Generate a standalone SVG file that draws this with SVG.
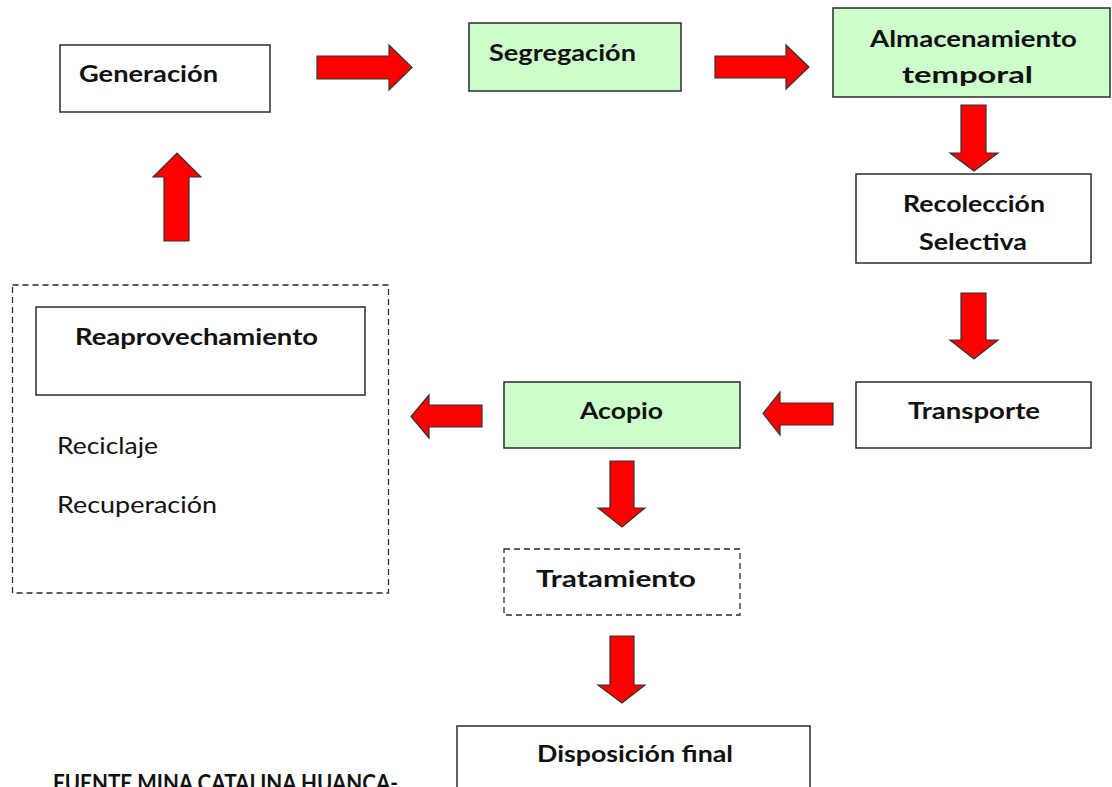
<svg xmlns="http://www.w3.org/2000/svg" width="1112" height="787" viewBox="0 0 1112 787">
  <style>
    .box { fill: #ffffff; stroke: #2b2b2b; stroke-width: 1.5; }
    .green { fill: #ccffcc; }
    .dashed { fill: #ffffff; stroke: #2b2b2b; stroke-width: 1.3; stroke-dasharray: 6 4; }
    .arrow { fill: #ff0000; stroke: #333333; stroke-width: 1.2; stroke-linejoin: miter; }
    .lbl { font-family: Lato, "Liberation Sans", sans-serif; font-weight: bold; font-size: 23px; fill: #111111; }
    .reg { font-family: Lato, "Liberation Sans", sans-serif; font-weight: normal; font-size: 23px; fill: #111111; }
  </style>
  <defs>
    <clipPath id="clipAlm">
      <rect x="833" y="8" width="279" height="78"/>
    </clipPath>
  </defs>
  <rect x="0" y="0" width="1112" height="787" fill="#ffffff"/>

  <g id="connectors">
    <polygon id="a1" class="arrow" points="317,56 389,56 389,45 412,67.5 389,90 389,79 317,79"/>
    <polygon id="a2" class="arrow" points="715,56 786,56 786,45 809,67 786,89 786,78 715,78"/>
    <polygon id="a3" class="arrow" points="961,105 986,105 986,153 998,153 974,171 950,153 961,153"/>
    <polygon id="a4" class="arrow" points="961,293 986,293 986,340 998,340 974,359 950,340 961,340"/>
    <polygon id="a5" class="arrow" points="833,403 780,403 780,392 763,413.5 780,435 780,425 833,425"/>
    <polygon id="a6" class="arrow" points="482,405 429,405 429,395 411,416.5 429,438 429,427 482,427"/>
    <polygon id="a7" class="arrow" points="164,241 164,177 153,177 177,153 201,177 189,177 189,241"/>
    <polygon id="a8" class="arrow" points="610,461 634,461 634,508 645,508 622,527 598,508 610,508"/>
    <polygon id="a9" class="arrow" points="610,636 634,636 634,685 645,685 622,703 598,685 610,685"/>
  </g>

  <g id="generacion">
    <rect class="box" x="60" y="45" width="210" height="67"/>
    <text class="lbl" x="79" y="82" textLength="139" lengthAdjust="spacingAndGlyphs">Generación</text>
  </g>

  <g id="segregacion">
    <rect class="box green" x="469" y="23" width="212" height="68"/>
    <text class="lbl" x="489" y="61" textLength="147" lengthAdjust="spacingAndGlyphs">Segregación</text>
  </g>

  <g id="almacenamiento">
    <rect class="box green" x="833" y="8" width="277" height="89"/>
    <g clip-path="url(#clipAlm)">
      <text class="lbl" x="870" y="47" textLength="207" lengthAdjust="spacingAndGlyphs">Almacenamiento</text>
      <text class="lbl" x="902" y="83" textLength="131" lengthAdjust="spacingAndGlyphs">temporal</text>
    </g>
  </g>

  <g id="recoleccion">
    <rect class="box" x="856" y="174" width="235" height="89"/>
    <text class="lbl" x="903" y="212" textLength="142" lengthAdjust="spacingAndGlyphs">Recolección</text>
    <text class="lbl" x="919" y="250" textLength="108" lengthAdjust="spacingAndGlyphs">Selectiva</text>
  </g>

  <g id="transporte">
    <rect class="box" x="856" y="382" width="235" height="66"/>
    <text class="lbl" x="908" y="419" textLength="132" lengthAdjust="spacingAndGlyphs">Transporte</text>
  </g>

  <g id="acopio">
    <rect class="box green" x="504" y="382" width="236" height="66"/>
    <text class="lbl" x="580" y="419" textLength="83" lengthAdjust="spacingAndGlyphs">Acopio</text>
  </g>

  <g id="reaprovechamiento-grupo">
    <rect class="dashed" x="12.5" y="285" width="376" height="308"/>
    <g id="reaprovechamiento">
      <rect class="box" x="36" y="307" width="329" height="88"/>
      <text class="lbl" x="75" y="345" textLength="243" lengthAdjust="spacingAndGlyphs">Reaprovechamiento</text>
    </g>
    <text class="reg" x="57" y="454" textLength="101" lengthAdjust="spacingAndGlyphs">Reciclaje</text>
    <text class="reg" x="57" y="513" textLength="160" lengthAdjust="spacingAndGlyphs">Recuperación</text>
  </g>

  <g id="tratamiento">
    <rect class="dashed" x="504" y="549" width="236" height="66"/>
    <text class="lbl" x="536" y="587" textLength="160" lengthAdjust="spacingAndGlyphs">Tratamiento</text>
  </g>

  <g id="disposicion">
    <rect class="box" x="457" y="726" width="353" height="80"/>
    <text class="lbl" x="537" y="762" textLength="196" lengthAdjust="spacingAndGlyphs">Disposición final</text>
  </g>

  <g id="fuente">
    <text class="lbl" x="53" y="791" font-size="21" textLength="345" lengthAdjust="spacingAndGlyphs">FUENTE MINA CATALINA HUANCA-</text>
  </g>
</svg>
